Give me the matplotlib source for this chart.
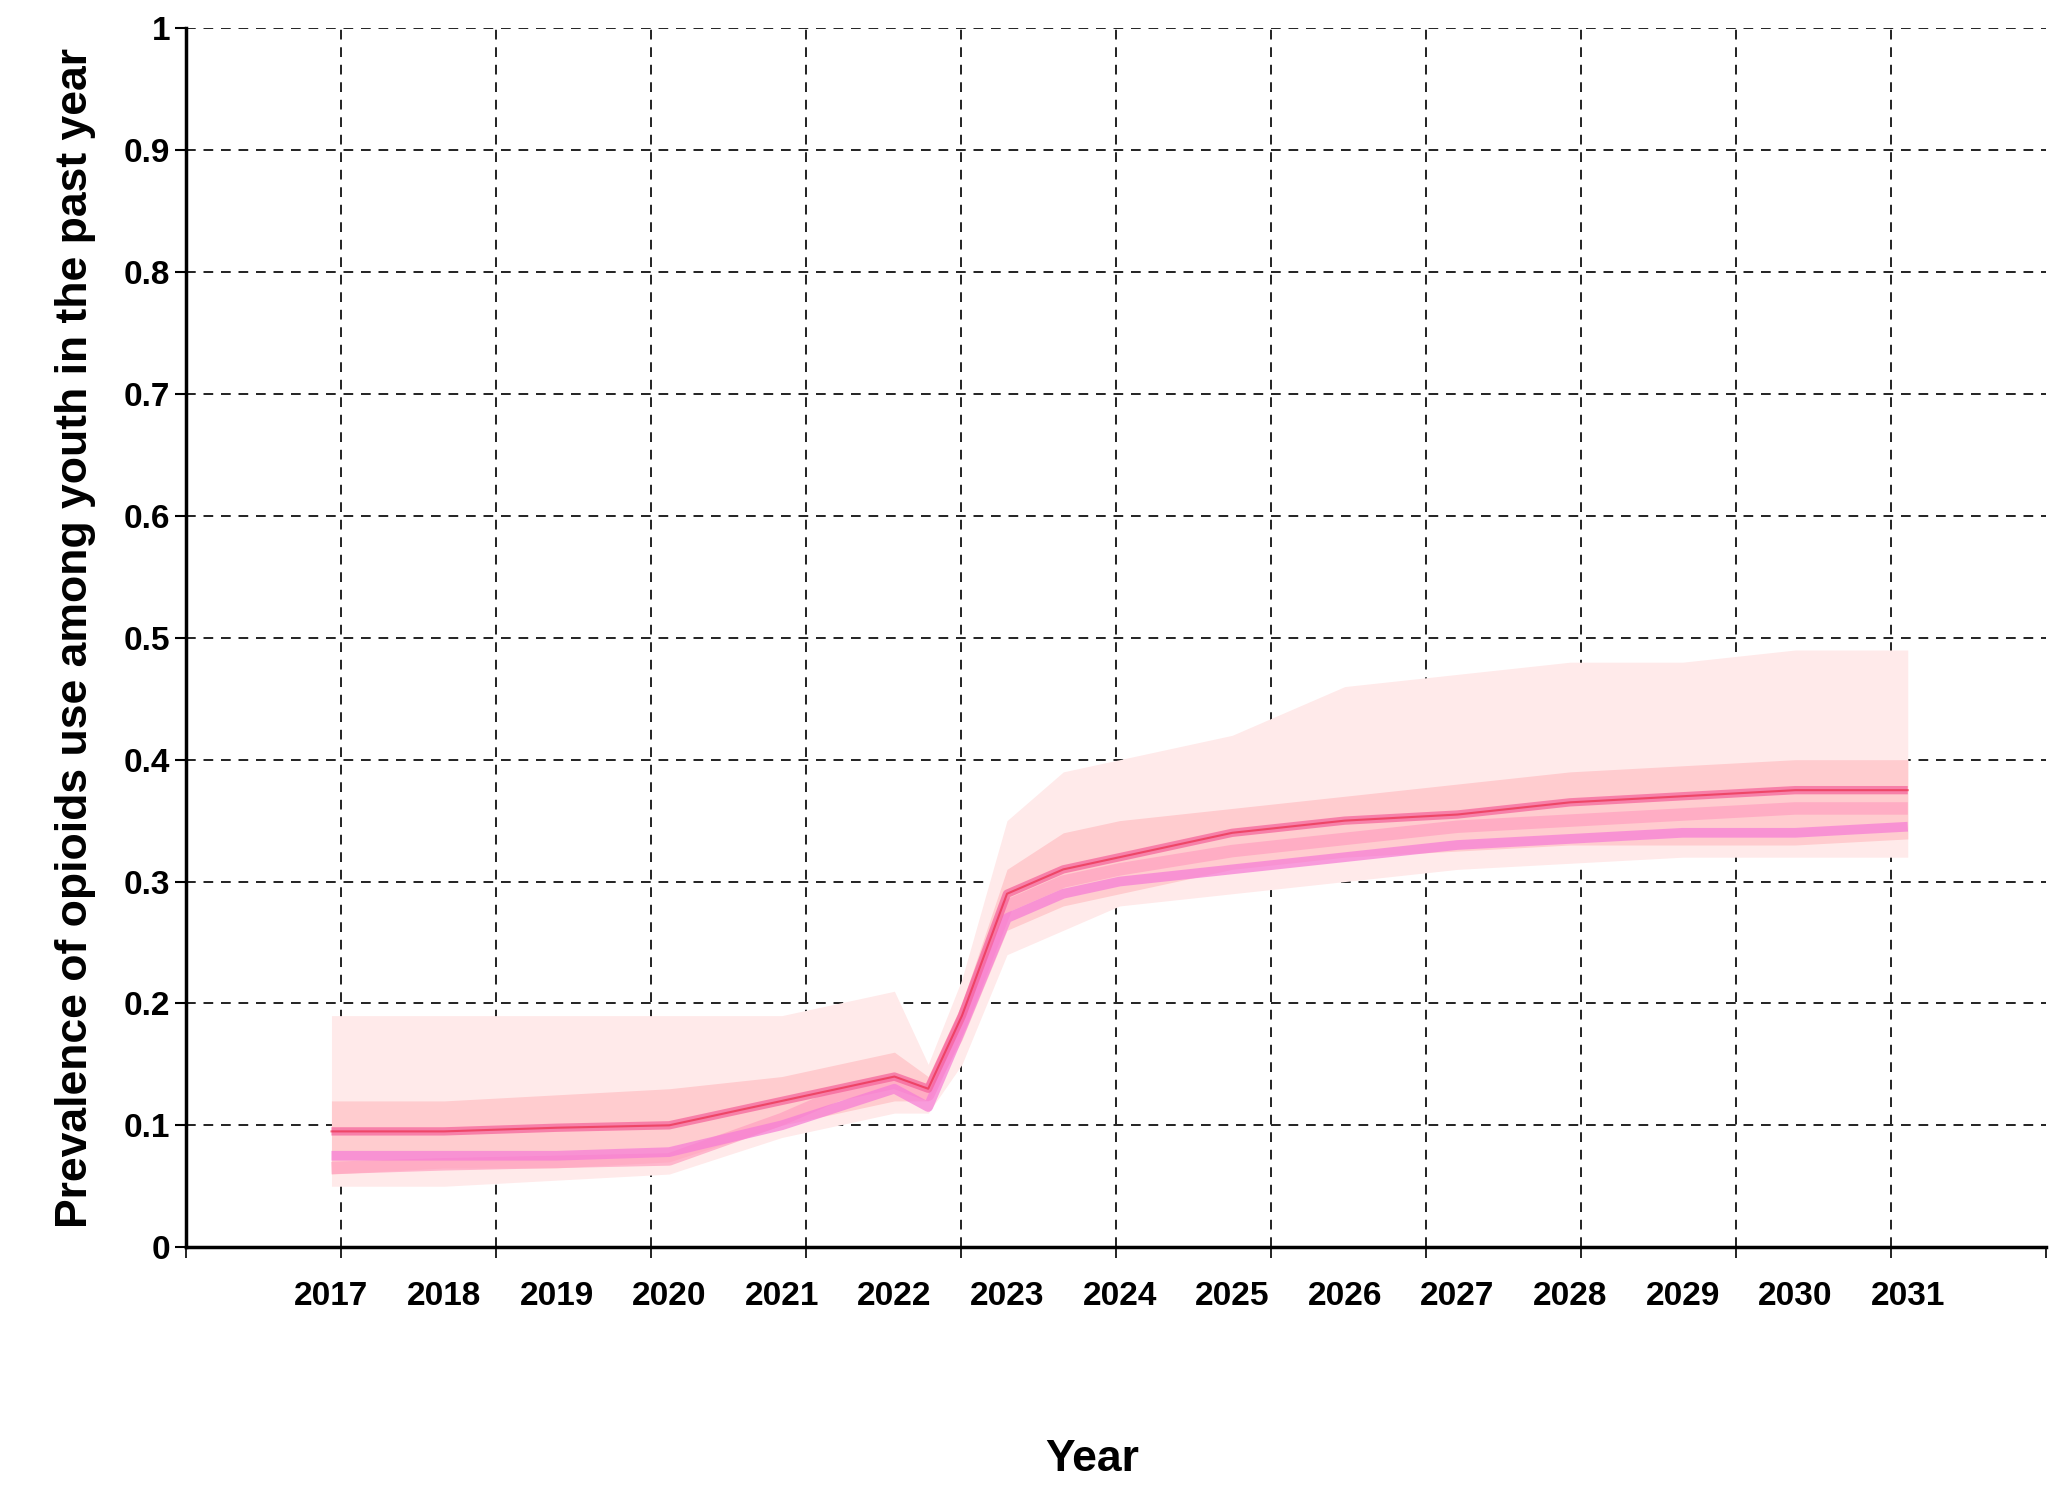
import matplotlib
matplotlib.use("Agg")
import matplotlib.pyplot as plt
import numpy as np

plt.rcParams['font.family'] = ['Liberation Sans', 'DejaVu Sans']

years = [2017, 2018, 2019, 2020, 2021, 2021.5, 2022, 2022.3, 2022.6, 2023, 2023.5, 2024, 2025, 2026, 2027, 2028, 2029, 2030, 2031]
outer_hi = [0.19, 0.19, 0.19, 0.19, 0.19, 0.20, 0.21, 0.15, 0.22, 0.35, 0.39, 0.40, 0.42, 0.46, 0.47, 0.48, 0.48, 0.49, 0.49]
outer_lo = [0.05, 0.05, 0.055, 0.06, 0.09, 0.10, 0.11, 0.11, 0.15, 0.24, 0.26, 0.28, 0.29, 0.30, 0.31, 0.315, 0.32, 0.32, 0.32]
inner_hi = [0.12, 0.12, 0.125, 0.13, 0.14, 0.15, 0.16, 0.14, 0.20, 0.31, 0.34, 0.35, 0.36, 0.37, 0.38, 0.39, 0.395, 0.40, 0.40]
inner_lo = [0.06, 0.065, 0.065, 0.07, 0.10, 0.11, 0.12, 0.12, 0.17, 0.26, 0.28, 0.29, 0.31, 0.32, 0.325, 0.33, 0.33, 0.33, 0.335]
core_a = [0.075, 0.075, 0.075, 0.078, 0.10, 0.115, 0.13, 0.115, 0.18, 0.27, 0.29, 0.30, 0.31, 0.32, 0.33, 0.335, 0.34, 0.34, 0.345]
core_b = [0.095, 0.095, 0.098, 0.10, 0.12, 0.13, 0.14, 0.13, 0.19, 0.29, 0.31, 0.32, 0.34, 0.35, 0.355, 0.365, 0.37, 0.375, 0.375]
core_c = [0.065, 0.068, 0.07, 0.072, 0.105, 0.125, 0.135, 0.125, 0.185, 0.28, 0.30, 0.31, 0.325, 0.335, 0.345, 0.35, 0.355, 0.36, 0.36]

tick_years = list(range(2017, 2032))
yticks = [0, 0.1, 0.2, 0.3, 0.4, 0.5, 0.6, 0.7, 0.8, 0.9, 1]
ytick_labels = ['0', '0.1', '0.2', '0.3', '0.4', '0.5', '0.6', '0.7', '0.8', '0.9', '1']

fig = plt.figure(figsize=(20.69, 14.99), dpi=100)
ax = fig.add_axes([0.09, 0.168, 0.899, 0.813])
x0, x1 = 2015.71, 2032.23
ax.set_xlim(x0, x1)
ax.set_ylim(0, 1)

ax.fill_between(years, outer_lo, outer_hi, color='#ffeaea', lw=0, zorder=1)
ax.fill_between(years, inner_lo, inner_hi, color='#ffcccf', lw=0, zorder=2)
for c, col, lw in [(core_c, '#ffa0c0', 9), (core_a, '#f67ad6', 7), (core_b, '#f5609a', 6)]:
    ax.plot(years, c, color=col, lw=lw, alpha=0.7, zorder=3, solid_capstyle='butt')
ax.plot(years, core_b, color='#e8203c', lw=1.5, alpha=0.6, zorder=4)

grid_x = [x0 + k * (x1 - x0) / 12 for k in range(13)]
for gx in grid_x[1:-1]:
    ax.axvline(gx, color='#222222', ls=(0, (5, 4)), lw=1.4, zorder=0)
for gy in yticks[1:]:
    ax.axhline(gy, color='#222222', ls=(0, (5, 4)), lw=1.4, zorder=0)

ax.set_xticks(grid_x, minor=True)
ax.set_xticks(tick_years)
ax.set_xticklabels([str(y) for y in tick_years], fontsize=24, fontweight='bold')
ax.tick_params(axis='x', which='major', length=0, pad=24)
ax.tick_params(axis='x', which='minor', length=8, width=1.2, direction='out')
ax.set_yticks(yticks)
ax.set_yticklabels(ytick_labels, fontsize=24, fontweight='bold')
ax.tick_params(axis='y', length=8, width=1.5, direction='out')

for s in ['top', 'right']:
    ax.spines[s].set_visible(False)
for s in ['left', 'bottom']:
    ax.spines[s].set_linewidth(2.5)

ax.set_ylabel('Prevalence of opioids use among youth in the past year', fontsize=32, fontweight='bold', labelpad=20)
ax.set_xlabel('Year', fontsize=32, fontweight='bold', labelpad=92, x=0.487)

fig.savefig('out.png', dpi=100)
